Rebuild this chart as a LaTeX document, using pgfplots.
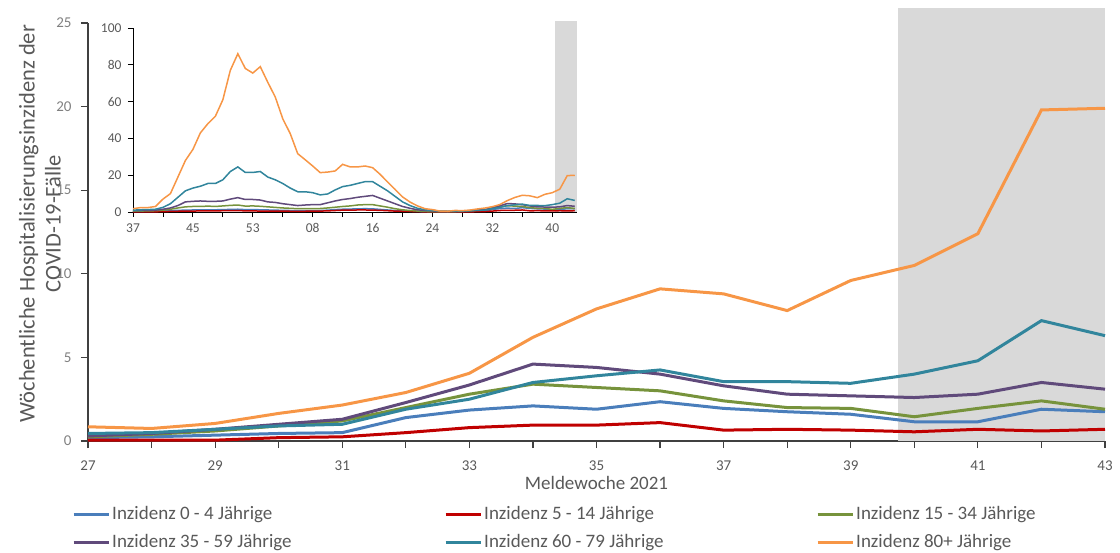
\documentclass[border=0pt]{standalone}
\usepackage{pgfplots}
\pgfplotsset{compat=1.18}
\usepackage{pgfplotstable}
\usepackage{fontspec}
\setmainfont{Carlito}
\definecolor{cBlue}{HTML}{4A7EBB}
\definecolor{cRed}{HTML}{C00000}
\definecolor{cGreen}{HTML}{77933C}
\definecolor{cPurple}{HTML}{604A7B}
\definecolor{cTeal}{HTML}{31859C}
\definecolor{cOrange}{HTML}{F79646}
\definecolor{cShade}{HTML}{D9D9D9}
\definecolor{cTick}{HTML}{595959}
\definecolor{cYTick}{HTML}{808080}
\definecolor{cAxis}{HTML}{404040}

\pgfplotstableread{
wk b r g p t o
27 0.20 0.05 0.25 0.30 0.45 0.85
28 0.25 0.05 0.40 0.45 0.50 0.75
29 0.35 0.05 0.60 0.70 0.70 1.05
30 0.45 0.20 0.90 1.00 0.90 1.65
31 0.50 0.25 1.20 1.30 1.00 2.15
32 1.40 0.50 2.00 2.30 1.90 2.90
33 1.85 0.80 2.80 3.35 2.50 4.05
34 2.10 0.95 3.40 4.60 3.50 6.20
35 1.90 0.95 3.20 4.40 3.90 7.90
36 2.35 1.10 3.00 4.00 4.25 9.10
37 1.95 0.65 2.40 3.30 3.55 8.80
38 1.75 0.70 2.00 2.80 3.55 7.80
39 1.60 0.65 1.95 2.70 3.45 9.60
40 1.15 0.55 1.45 2.60 4.00 10.50
41 1.15 0.70 1.95 2.80 4.80 12.40
42 1.90 0.60 2.40 3.50 7.20 19.80
43 1.75 0.70 1.90 3.10 6.30 19.90
}\maintab

\pgfplotstableread{
i b r g p t o
0 0.3 0.1 0.5 0.7 1.0 1.8
1 0.3 0.1 0.5 0.8 1.2 2.4
2 0.3 0.1 0.6 0.9 1.3 2.4
3 0.4 0.1 0.7 1.0 1.5 3.0
4 0.5 0.2 1.0 1.5 2.5 7.0
5 0.7 0.3 1.5 2.2 4.5 10.0
6 0.9 0.4 2.2 3.5 8.0 19.0
7 1.0 0.5 2.8 5.5 11.5 28.0
8 1.1 0.5 3.0 5.8 13.0 34.0
9 1.1 0.6 3.0 6.0 14.0 43.0
10 1.2 0.6 3.2 5.8 15.5 48.0
11 1.2 0.6 3.0 5.8 15.5 52.0
12 1.3 0.7 3.3 6.0 17.5 61.0
13 1.4 0.8 3.6 7.0 22.0 77.0
14 1.5 0.8 3.8 7.8 24.5 86.0
15 1.3 0.6 3.2 6.8 21.5 78.0
16 1.3 0.6 3.3 6.8 21.5 75.5
17 1.2 0.5 3.1 6.5 22.0 79.0
18 1.1 0.5 2.8 5.5 19.0 70.5
19 1.0 0.5 2.5 5.2 17.5 62.5
20 0.9 0.5 2.2 4.5 15.5 50.7
21 0.8 0.4 2.0 4.0 13.0 42.6
22 0.8 0.4 1.8 3.5 11.0 31.7
23 0.8 0.4 1.8 3.8 11.0 28.4
24 0.8 0.5 1.9 4.0 10.5 25.0
25 0.8 0.5 1.9 4.0 9.3 21.4
26 1.0 0.6 2.2 5.0 9.8 21.7
27 1.3 0.8 2.6 6.0 12.0 22.3
28 1.5 1.0 3.0 6.8 13.8 25.9
29 1.6 1.0 3.3 7.3 14.5 24.5
30 1.7 1.1 3.8 8.0 15.5 24.5
31 1.8 1.1 4.0 8.5 16.5 25.0
32 1.7 1.0 4.0 9.0 16.5 24.1
33 1.4 0.9 3.3 7.5 14.0 20.5
34 1.1 0.7 2.6 6.0 11.5 16.3
35 0.8 0.5 1.8 4.5 8.5 12.3
36 0.6 0.4 1.2 3.0 5.5 8.2
37 0.4 0.3 0.8 2.0 3.5 5.4
38 0.3 0.2 0.5 1.2 2.0 3.3
39 0.2 0.1 0.3 0.8 1.2 1.8
40 0.2 0.1 0.2 0.6 0.8 1.3
41 0.1 0.05 0.15 0.4 0.5 0.5
42 0.1 0.05 0.15 0.3 0.4 0.4
43 0.20 0.05 0.25 0.30 0.45 0.85
44 0.25 0.05 0.40 0.45 0.50 0.75
45 0.35 0.05 0.60 0.70 0.70 1.05
46 0.45 0.20 0.90 1.00 0.90 1.65
47 0.50 0.25 1.20 1.30 1.00 2.15
48 1.40 0.50 2.00 2.30 1.90 2.90
49 1.85 0.80 2.80 3.35 2.50 4.05
50 2.10 0.95 3.40 4.60 3.50 6.20
51 1.90 0.95 3.20 4.40 3.90 7.90
52 2.35 1.10 3.00 4.00 4.25 9.10
53 1.95 0.65 2.40 3.30 3.55 8.80
54 1.75 0.70 2.00 2.80 3.55 7.80
55 1.60 0.65 1.95 2.70 3.45 9.60
56 1.15 0.55 1.45 2.60 4.00 10.50
57 1.15 0.70 1.95 2.80 4.80 12.40
58 1.90 0.60 2.40 3.50 7.20 19.80
59 1.75 0.70 1.90 3.10 6.30 19.90
}\insettab

\begin{document}
\begin{tikzpicture}[x=1pt,y=1pt]
\path[use as bounding box] (-88,-111) rectangle (1032,441);
\begin{axis}[
  name=main,
  at={(0pt,0pt)}, anchor=south west,
  scale only axis, width=1017pt, height=418pt,
  xmin=27, xmax=43, ymin=0, ymax=25,
  clip=false,
  axis x line*=bottom, axis y line*=left,
  axis line style={draw=cAxis, line width=1.5pt, -},
  tick style={draw=cAxis, line width=1.2pt},
  major tick length=7pt, tick align=outside,
  xtick={27,...,43},
  xticklabels={27,,29,,31,,33,,35,,37,,39,,41,,43},
  ytick={0,5,...,25},
  /pgf/number format/assume math mode=true,
  ticklabel style={font=\fontsize{15}{18}\selectfont},
  x tick label style={text=cTick, yshift=-9pt},
  y tick label style={text=cYTick, xshift=-6pt},
  xlabel={Meldewoche 2021},
  xlabel style={font=\fontsize{19}{22}\selectfont, text=cTick, at={(axis description cs:0.5,-0.1005)}, anchor=center},
  ylabel={Wöchentliche Hospitalisierungsinzidenz der\\COVID-19-Fälle},
  ylabel style={font=\fontsize{22.5}{26}\selectfont, text=cTick, align=center, at={(axis description cs:-0.0472,0.52)}, anchor=center},
  legend columns=3,
  legend style={draw=none, fill=none, inner sep=0pt, at={(axis description cs:-0.0157,-0.1531)}, anchor=north west,
    font=\fontsize{19}{22}\selectfont, text=cTick,
    nodes={inner sep=0pt, text height=14pt, text depth=4pt, anchor=west},
    row sep=10pt,
    /tikz/every odd column/.append style={column sep=2pt}},
  legend cell align=left,
  legend image code/.code={\draw[#1] (0pt,0pt) -- (35pt,0pt);},
]
\fill[cShade] (axis cs:39.74,0) rectangle (axis cs:43,25.9);
\addplot[cBlue, line width=3pt] table[x=wk,y=b]{\maintab};
\addlegendentry{\makebox[332pt][l]{Inzidenz 0 - 4 Jährige}}
\addplot[cRed, line width=3pt] table[x=wk,y=r]{\maintab};
\addlegendentry{\makebox[332pt][l]{Inzidenz 5 - 14 Jährige}}
\addplot[cGreen, line width=3pt] table[x=wk,y=g]{\maintab};
\addlegendentry{Inzidenz 15 - 34 Jährige}
\addplot[cPurple, line width=3pt] table[x=wk,y=p]{\maintab};
\addlegendentry{\makebox[332pt][l]{Inzidenz 35 - 59 Jährige}}
\addplot[cTeal, line width=3pt] table[x=wk,y=t]{\maintab};
\addlegendentry{\makebox[332pt][l]{Inzidenz 60 - 79 Jährige}}
\addplot[cOrange, line width=3pt] table[x=wk,y=o]{\maintab};
\addlegendentry{Inzidenz 80+ Jährige}
\end{axis}

\begin{axis}[
  at={(main.south west)}, xshift=45pt, yshift=229pt, anchor=south west,
  scale only axis, width=444pt, height=184pt,
  xmin=0, xmax=59.3, ymin=0, ymax=100,
  clip=false,
  axis x line*=bottom, axis y line*=left,
  axis line style={draw=black, line width=0.8pt, -},
  tick style={draw=black, line width=0.8pt},
  major tick length=5pt, tick align=outside,
  xtick={0,4,...,56},
  xticklabels={37,,45,,53,,08,,16,,24,,32,,40},
  ytick={0,20,...,100},
  /pgf/number format/assume math mode=true,
  ticklabel style={font=\fontsize{13.5}{15}\selectfont, text=cTick},
  x tick label style={yshift=-3pt},
  y tick label style={xshift=-3pt},
]
\fill[cShade] (axis cs:56.3,0) rectangle (axis cs:59.3,104);
\addplot[cBlue, line width=1.5pt] table[x=i,y=b]{\insettab};
\addplot[cRed, line width=1.5pt] table[x=i,y=r]{\insettab};
\addplot[cGreen, line width=1.5pt] table[x=i,y=g]{\insettab};
\addplot[cPurple, line width=1.5pt] table[x=i,y=p]{\insettab};
\addplot[cTeal, line width=1.5pt] table[x=i,y=t]{\insettab};
\addplot[cOrange, line width=1.5pt] table[x=i,y=o]{\insettab};
\end{axis}
\end{tikzpicture}
\end{document}
